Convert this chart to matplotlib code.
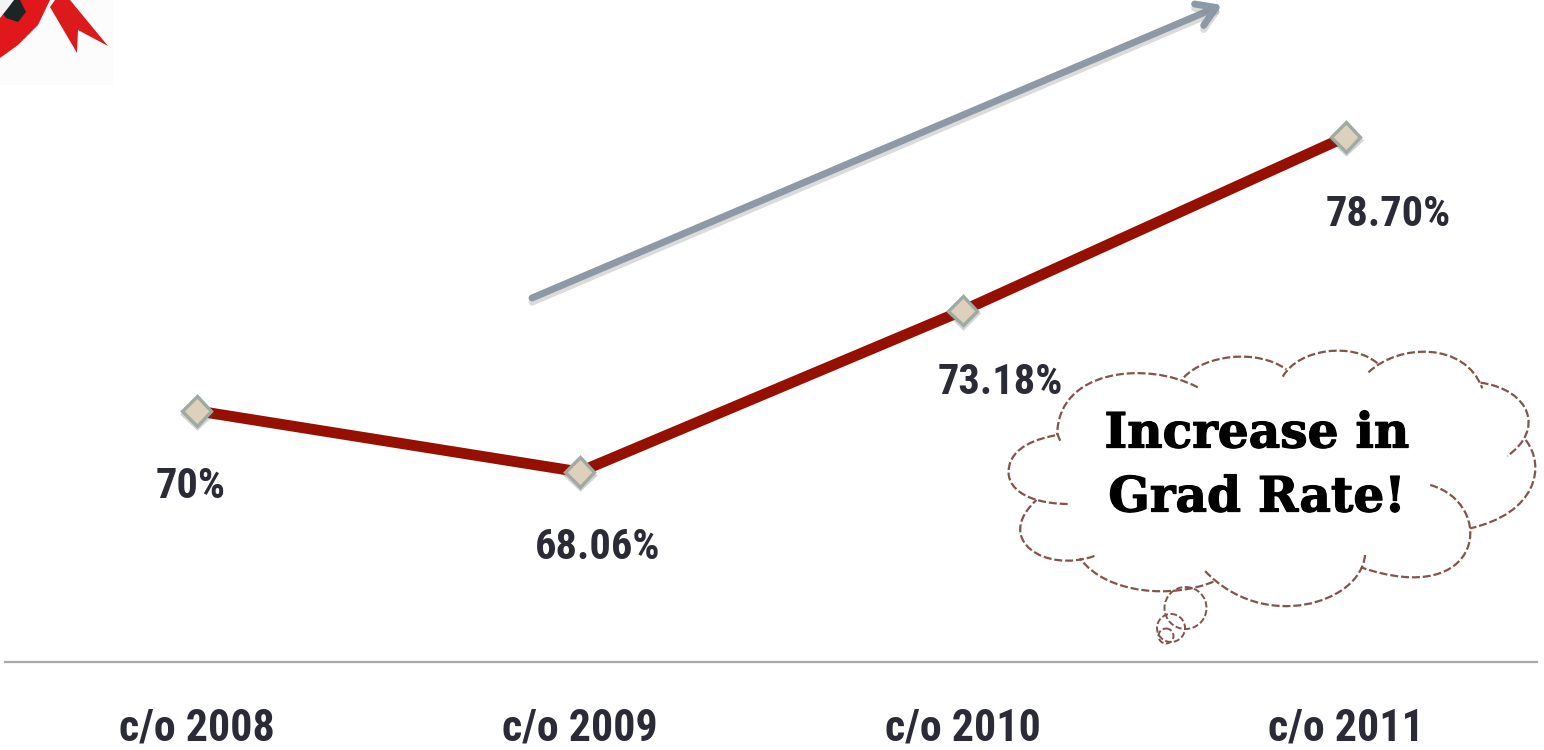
import numpy as np
import matplotlib
matplotlib.use('Agg')
import matplotlib.pyplot as plt
import matplotlib.patheffects as pe
from matplotlib.path import Path
from matplotlib.patches import PathPatch, Ellipse, Polygon, Rectangle

# Graduation rate by cohort
cohorts = ['c/o 2008', 'c/o 2009', 'c/o 2010', 'c/o 2011']
grad_rate = [70, 68.06, 73.18, 78.70]
rate_labels = ['70%', '68.06%', '73.18%', '78.70%']

LINE_RED = '#951000'
LABEL_DARK = '#2b2b38'
CLOUD_BROWN = '#84534a'
NARROW = ['Roboto Condensed', 'Roboto', 'DejaVu Sans']
SERIF = ['DejaVu Serif']

fig = plt.figure(figsize=(15.44, 7.5), dpi=100, facecolor='white')
ax = fig.add_axes([5 / 1544, 88 / 750, 1532 / 1544, 662 / 750])

ax.plot(cohorts, grad_rate, color=LINE_RED, lw=7.8, solid_capstyle='butt', zorder=2)
ax.plot(cohorts, grad_rate, ls='none', marker='D', ms=15, mfc='#ddd0bc', mec='#9faaa3', mew=2.4, zorder=3,
        path_effects=[pe.SimpleLineShadow(offset=(0.5, -2), shadow_color='#555555', alpha=0.25), pe.Normal()])

# value labels sit below and to the right of each point
offsets = [(-4, -54.5), (13, -54.5), (27, -51.5), (31, -55.5)]
for i, (val, txt) in enumerate(zip(grad_rate, rate_labels)):
    ax.annotate(txt, (i, val), xytext=offsets[i], textcoords='offset points',
                ha='center', va='center', fontsize=30.5, fontweight='bold',
                family=NARROW, color=LABEL_DARK)

ax.set_xlim(-0.5, 3.5)
ax.set_ylim(62.02, 83.05)
ax.set_yticks([])
for side in ['top', 'left', 'right']:
    ax.spines[side].set_visible(False)
ax.spines['bottom'].set_color('#a9a9a9')
ax.spines['bottom'].set_linewidth(1.6)
ax.tick_params(axis='x', length=0, pad=33)
for lab in ax.get_xticklabels():
    lab.set_fontsize(31.7)
    lab.set_fontweight('bold')
    lab.set_family(NARROW)
    lab.set_color(LABEL_DARK)

# overlay in pixel coordinates for the decorations
over = fig.add_axes([0, 0, 1, 1])
over.set_xlim(0, 1544)
over.set_ylim(750, 0)
over.axis('off')
over.patch.set_alpha(0)

# ribbon corner
over.add_patch(Rectangle((0, 0), 113, 85, fc='#fcfcfc', ec='none', zorder=1))
over.add_patch(Polygon([(0, 58), (18, 45), (38, 25), (50, 0), (0, 0)], fc='#e0181c', ec='none', zorder=2))
over.add_patch(Polygon([(50, 7), (77, 53), (78, 30), (108, 46), (70, 0), (55, 0)], fc='#dc1a1c', ec='none', zorder=2))
over.add_patch(Polygon([(0, 0), (20, 0), (26, 12), (18, 22), (6, 18), (0, 10)], fc='#1c2526', ec='none', zorder=3))
over.add_patch(Polygon([(0, 0), (14, 0), (8, 8), (0, 18)], fc='#f4f4f4', ec='none', zorder=4))

# trend arrow
over.annotate('', xy=(1222, 5), xytext=(532, 298),
              arrowprops=dict(arrowstyle='->,head_length=0.6,head_width=0.38', mutation_scale=22,
                              color='#8e99a8', lw=5, shrinkA=0, shrinkB=0,
                              path_effects=[pe.SimpleLineShadow(offset=(0, -3), shadow_color='#888888', alpha=0.3),
                                            pe.Normal()]))

# thought cloud, each lobe one bezier segment
lobes = [
    [(570, 142), (420, 60), (165, 90), (165, 285)],
    [(530, 112), (590, 45), (740, 25), (825, 88)],
    [(815, 110), (860, 25), (1020, 5), (1090, 72)],
    [(1062, 97), (1150, 10), (1340, 5), (1390, 145)],
    [(1385, 128), (1530, 150), (1570, 270), (1462, 348)],
    [(1515, 300), (1575, 380), (1545, 520), (1355, 565)],
    [(1240, 435), (1430, 490), (1400, 810), (1040, 682)],
    [(1052, 645), (1040, 790), (760, 880), (590, 692)],
    [(615, 725), (500, 775), (310, 765), (230, 655)],
    [(272, 648), (130, 700), (-20, 600), (105, 480)],
    [(195, 492), (70, 490), (20, 440), (25, 390)],
    [(25, 390), (30, 320), (110, 295), (165, 285)],
    [(165, 280), (168, 290), (172, 298), (176, 308)],
]
codes = [Path.MOVETO, Path.CURVE4, Path.CURVE4, Path.CURVE4]
for pts in lobes:
    xy = [(1000 + x / 2.882, 340 + y / 3) for x, y in pts]
    over.add_patch(PathPatch(Path(xy, codes), fc='none', ec=CLOUD_BROWN, lw=1.6, ls=(0, (3.6, 1.3)), zorder=5))
for cx, cy, r in [(1185.5, 608, 21), (1171, 628, 14), (1166, 636, 7.5)]:
    over.add_patch(Ellipse((cx, cy), 2 * r, 2 * r, fc='none', ec=CLOUD_BROWN, lw=1.4, ls=(0, (3.2, 1.3)), zorder=5))

bold_edge = [pe.withStroke(linewidth=0.9, foreground='black')]
over.text(1257, 434, 'Increase in', ha='center', va='center', fontsize=35, fontweight='bold',
          family=SERIF, color='black', path_effects=bold_edge)
over.text(1257, 498, 'Grad Rate!', ha='center', va='center', fontsize=35, fontweight='bold',
          family=SERIF, color='black', path_effects=bold_edge)

fig.savefig('out.png', dpi=100)
